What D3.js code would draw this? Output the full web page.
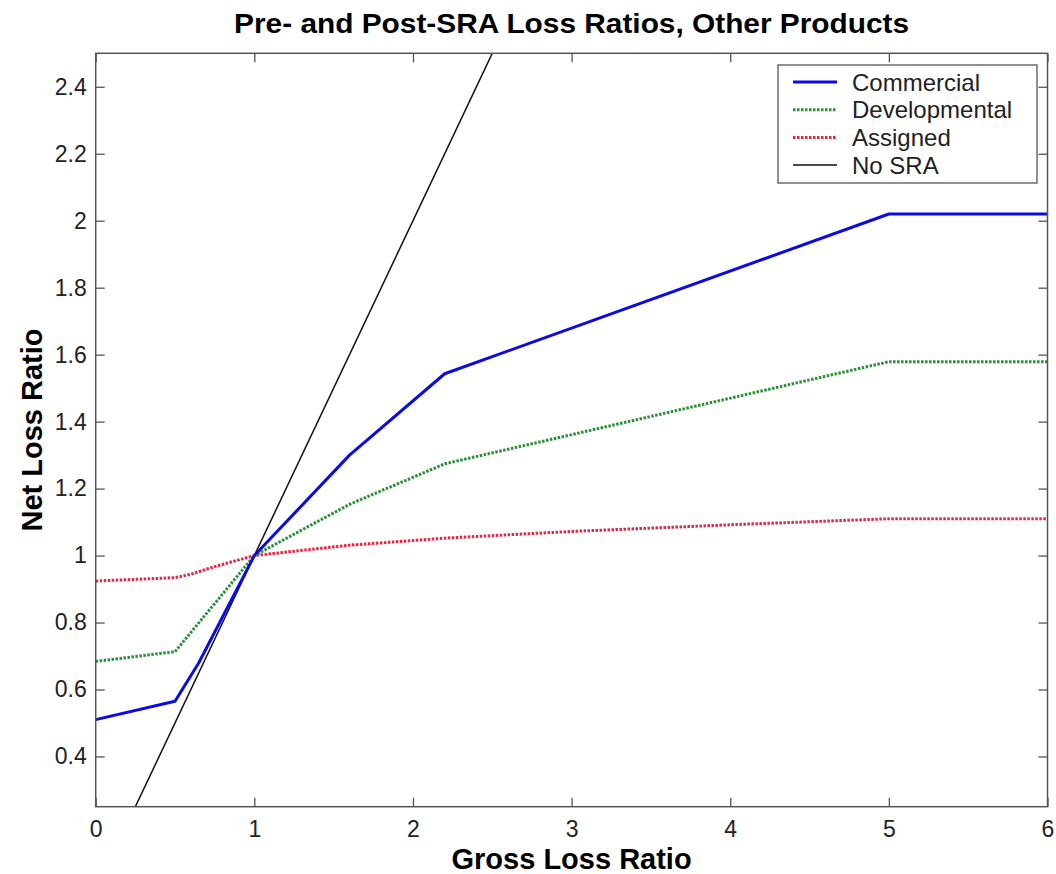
<!DOCTYPE html>
<html>
<head>
<meta charset="utf-8">
<script src="https://cdn.jsdelivr.net/npm/d3@7"></script>
<style>
  body { margin: 0; background: #fff; }
  svg { font-family: Arial, "Liberation Sans", sans-serif; }
</style>
</head>
<body>
<div class="canvas"></div>
<script>
// data
const commercialX = [0, 0.5, 0.65, 1, 1.6, 2.2, 5, 6];
const commercialY = [0.51, 0.565, 0.68, 1, 1.3, 1.543, 2.02, 2.02];

const developmentalX = [0, 0.5, 1, 1.6, 2.2, 5, 6];
const developmentalY = [0.684, 0.713, 1, 1.153, 1.274, 1.579, 1.579];

const assignedX = [0, 0.5, 0.6, 0.75, 1, 1.6, 2.2, 3, 4, 5, 6];
const assignedY = [0.924, 0.934, 0.944, 0.967, 1, 1.031, 1.052, 1.072, 1.092, 1.11, 1.11];

const noSraX = [0, 6];
const noSraY = [0, 6];

const xTicks = [0, 1, 2, 3, 4, 5, 6];
const yTicks = [0.4, 0.6, 0.8, 1, 1.2, 1.4, 1.6, 1.8, 2, 2.2, 2.4];

const seriesNames = ['Commercial', 'Developmental', 'Assigned', 'No SRA'];

const W = 1056, H = 874;
const margin = { top: 53.3, right: 8.5, bottom: 67.3, left: 95.7 };
const graphWidth = W - margin.left - margin.right;
const graphHeight = H - margin.top - margin.bottom;

const svg = d3.select('.canvas')
    .append('svg')
    .attr('width', W)
    .attr('height', H);

const graph = svg.append('g')
    .attr('transform', `translate(${margin.left}, ${margin.top})`);

const x = d3.scaleLinear().domain([0, 6]).range([0, graphWidth]);
const y = d3.scaleLinear().domain([0.25, 2.5]).range([graphHeight, 0]);

graph.append('clipPath').attr('id', 'clip')
    .append('rect').attr('width', graphWidth).attr('height', graphHeight);

// series styles
const styles = [
    { xs: commercialX, ys: commercialY, color: '#0a0ae6', width: 3, dash: null },
    { xs: developmentalX, ys: developmentalY, color: '#2a9033', width: 3, dash: '2.5,1.5' },
    { xs: assignedX, ys: assignedY, color: '#ea2442', width: 3, dash: '2.5,1.5' },
    { xs: noSraX, ys: noSraY, color: '#111', width: 1.5, dash: null }
];

const line = d3.line().x(d => x(d[0])).y(d => y(d[1]));

const lines = graph.append('g').attr('clip-path', 'url(#clip)');
[3, 2, 1, 0].forEach(i => {
    const s = styles[i];
    lines.append('path')
        .datum(s.xs.map((v, j) => [v, s.ys[j]]))
        .attr('d', line)
        .attr('fill', 'none')
        .attr('stroke', s.color)
        .attr('stroke-width', s.width)
        .attr('stroke-dasharray', s.dash)
        .attr('stroke-linejoin', 'round');
});

// axes with inward ticks on all four sides
const tickLen = 9;
const xAxis = graph.append('g')
    .attr('transform', `translate(0, ${graphHeight})`)
    .call(d3.axisBottom(x).tickValues(xTicks).tickSizeInner(-tickLen).tickSizeOuter(0).tickPadding(14).tickFormat(d3.format('~g')));
const yAxis = graph.append('g')
    .call(d3.axisLeft(y).tickValues(yTicks).tickSizeInner(-tickLen).tickSizeOuter(0).tickPadding(9).tickFormat(d3.format('~g')));
graph.append('g')
    .call(d3.axisTop(x).tickValues(xTicks).tickSizeInner(-tickLen).tickSizeOuter(0).tickFormat(''));
graph.append('g')
    .attr('transform', `translate(${graphWidth}, 0)`)
    .call(d3.axisRight(y).tickValues(yTicks).tickSizeInner(-tickLen).tickSizeOuter(0).tickFormat(''));

graph.selectAll('.domain').remove();
graph.selectAll('.tick line').attr('stroke', '#555').attr('stroke-width', 1.3);
xAxis.selectAll('text').attr('font-size', 23).attr('fill', '#222');
yAxis.selectAll('text').attr('font-size', 23).attr('fill', '#222');

graph.append('rect')
    .attr('width', graphWidth)
    .attr('height', graphHeight)
    .attr('fill', 'none')
    .attr('stroke', '#555')
    .attr('stroke-width', 1.5);

// titles
svg.append('text')
    .attr('x', margin.left + graphWidth / 2)
    .attr('y', 33)
    .attr('text-anchor', 'middle')
    .attr('font-size', 28)
    .attr('font-weight', 'bold')
    .attr('textLength', 675)
    .attr('lengthAdjust', 'spacingAndGlyphs')
    .text('Pre- and Post-SRA Loss Ratios, Other Products');

svg.append('text')
    .attr('x', margin.left + graphWidth / 2)
    .attr('y', 869)
    .attr('text-anchor', 'middle')
    .attr('font-size', 29)
    .attr('font-weight', 'bold')
    .text('Gross Loss Ratio');

svg.append('text')
    .attr('transform', `translate(42, ${margin.top + graphHeight / 2}) rotate(-90)`)
    .attr('text-anchor', 'middle')
    .attr('font-size', 29)
    .attr('font-weight', 'bold')
    .text('Net Loss Ratio');

// legend
const legend = svg.append('g').attr('transform', 'translate(778, 65)');
legend.append('rect')
    .attr('width', 259)
    .attr('height', 118)
    .attr('fill', '#fff')
    .attr('stroke', '#555')
    .attr('stroke-width', 1.3);

seriesNames.forEach((name, i) => {
    const s = styles[i];
    const ry = 17 + i * 27.7;
    legend.append('line')
        .attr('x1', 15).attr('x2', 59)
        .attr('y1', ry).attr('y2', ry)
        .attr('stroke', s.color)
        .attr('stroke-width', s.width)
        .attr('stroke-dasharray', s.dash);
    legend.append('text')
        .attr('x', 74)
        .attr('y', ry + 8.5)
        .attr('font-size', 24)
        .attr('fill', '#222')
        .text(name);
});
</script>
</body>
</html>
